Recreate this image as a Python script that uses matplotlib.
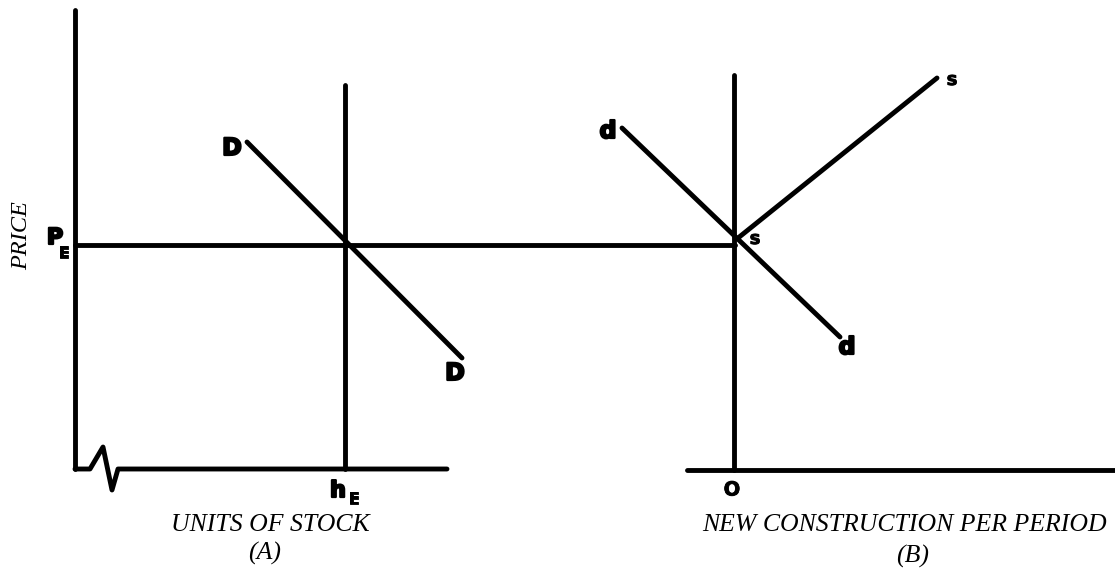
import matplotlib
matplotlib.use("Agg")
import matplotlib.pyplot as plt
import matplotlib.patheffects as pe

# Diagram geometry (pixel-like diagram coordinates, y grows downward)
left_axis_x = [75, 75]
left_axis_y = [10, 469]
base_a_x = [75, 90, 103, 112, 118, 447]
base_a_y = [469, 469, 447, 490, 469, 469]
stock_x = [345, 345]
stock_y = [85, 469]
price_x = [75, 735]
price_y = [245, 245]
demand_a_x = [247, 462]
demand_a_y = [142, 358]
constr_x = [734, 734]
constr_y = [75, 470]
base_b_x = [687, 1115]
base_b_y = [470, 470]
demand_b_x = [622, 840]
demand_b_y = [128, 337]
supply_b_x = [738, 937]
supply_b_y = [238, 78]

fig = plt.figure(figsize=(11.15, 5.70), dpi=100)
ax = fig.add_axes([0, 0, 1, 1])
ax.set_xlim(0, 1115)
ax.set_ylim(570, 0)
ax.axis("off")

lw = 3.5
kw = dict(color="black", lw=lw, solid_capstyle="round", solid_joinstyle="round")
for xs, ys in [(left_axis_x, left_axis_y), (base_a_x, base_a_y), (stock_x, stock_y),
               (price_x, price_y), (demand_a_x, demand_a_y), (constr_x, constr_y),
               (base_b_x, base_b_y), (demand_b_x, demand_b_y), (supply_b_x, supply_b_y)]:
    ax.plot(xs, ys, **kw)

heavy = [pe.withStroke(linewidth=1.6, foreground="black")]
light = [pe.withStroke(linewidth=0.6, foreground="black")]
bold = dict(family="DejaVu Sans", weight="bold", color="black", ha="center", va="center")
ax.text(232, 148, "D", fontsize=17, path_effects=heavy, **bold)
ax.text(455, 373, "D", fontsize=17, path_effects=heavy, **bold)
ax.text(608, 131, "d", fontsize=17, path_effects=heavy, **bold)
ax.text(847, 347, "d", fontsize=17, path_effects=heavy, **bold)
ax.text(952, 80, "s", fontsize=13, path_effects=light, **bold)
ax.text(755, 239, "s", fontsize=13, path_effects=light, **bold)
ax.text(338, 491, "h", fontsize=16, path_effects=heavy, **bold)
ax.text(354, 499, "E", fontsize=12, path_effects=light, **bold)
ax.text(732, 490, "O", fontsize=14, path_effects=light, **bold)
ax.text(55, 238, "P", fontsize=16, path_effects=heavy, **bold)
ax.text(64, 253, "E", fontsize=11, path_effects=light, **bold)

serif = dict(family="Liberation Serif", style="italic", color="black", ha="center", va="center")
ax.text(22, 236, "PRICE", fontsize=17.5, rotation=90, **serif)
ax.text(270, 525, "UNITS OF STOCK", fontsize=18.5, **serif)
ax.text(265, 553, "(A)", fontsize=18.5, **serif)
ax.text(905, 525, "NEW CONSTRUCTION PER PERIOD", fontsize=18.5, **serif)
ax.text(913, 556, "(B)", fontsize=18.5, **serif)

fig.savefig("out.png", dpi=100)
